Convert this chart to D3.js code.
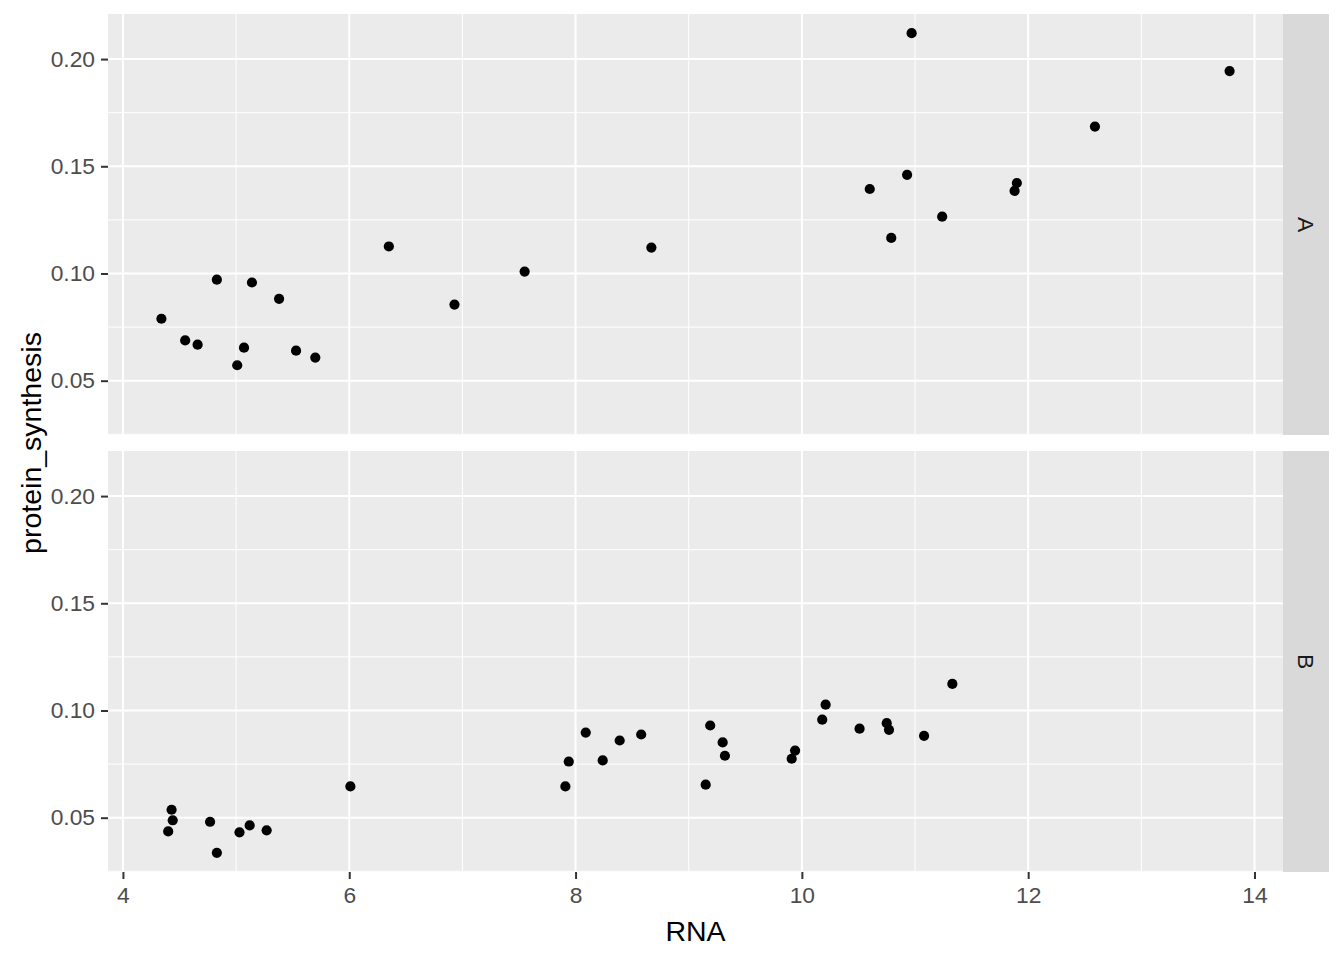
<!DOCTYPE html>
<html>
<head>
<meta charset="utf-8">
<script src="https://cdn.jsdelivr.net/npm/d3@7"></script>
<style>
  body { margin: 0; background: #fff; }
  svg { display: block; font-family: "Liberation Sans", Arial, sans-serif; }
</style>
</head>
<body>
<svg id="chart"></svg>
<script>
const width = 1344;
const height = 960;

// facet A
const rnaA = [4.34, 4.55, 4.66, 4.83, 5.01, 5.07, 5.14, 5.38, 5.53, 5.70, 6.35, 6.93,
  7.55, 8.67, 10.60, 10.79, 10.93, 10.97, 11.24, 11.88, 11.90, 12.59, 13.78];
const proteinA = [0.0789, 0.0688, 0.0668, 0.0971, 0.0572, 0.0654, 0.0958, 0.0882, 0.0640, 0.0608, 0.1126, 0.0855,
  0.1009, 0.1121, 0.1394, 0.1166, 0.1460, 0.2121, 0.1265, 0.1385, 0.1422, 0.1685, 0.1944];

// facet B
const rnaB = [4.43, 4.44, 4.40, 4.77, 4.83, 5.03, 5.12, 5.27, 6.01,
  7.91, 7.94, 8.09, 8.24, 8.39, 8.58, 9.15, 9.19, 9.30, 9.32, 9.91, 9.94,
  10.18, 10.21, 10.51, 10.75, 10.77, 11.08, 11.33];
const proteinB = [0.0537, 0.0488, 0.0436, 0.0481, 0.0336, 0.0432, 0.0464, 0.0441, 0.0646,
  0.0646, 0.0762, 0.0897, 0.0767, 0.0860, 0.0888, 0.0654, 0.0930, 0.0851, 0.0789, 0.0775, 0.0813,
  0.0957, 0.1027, 0.0915, 0.0941, 0.0910, 0.0882, 0.1124];

const panels = ['A', 'B'];
const xTicks = [4, 6, 8, 10, 12, 14];
const xMinor = [5, 7, 9, 11, 13];
const yTicks = [0.05, 0.10, 0.15, 0.20];
const yMinor = [0.025, 0.075, 0.125, 0.175];

const panelData = [
  rnaA.map((x, i) => ({ x: x, y: proteinA[i] })),
  rnaB.map((x, i) => ({ x: x, y: proteinB[i] }))
];

const left = 108, right = 1283, stripW = 46;
const panelTops = [14, 451];
const panelH = 421;

const allX = rnaA.concat(rnaB);
const allY = proteinA.concat(proteinB);
const expand = (ext) => {
  const pad = (ext[1] - ext[0]) * 0.05;
  return [ext[0] - pad, ext[1] + pad];
};

const x = d3.scaleLinear().domain(expand(d3.extent(allX))).range([left, right]);

const svg = d3.select('#chart').attr('width', width).attr('height', height);

panels.forEach((name, p) => {
  const top = panelTops[p];
  const y = d3.scaleLinear().domain(expand(d3.extent(allY))).range([top + panelH, top]);

  const g = svg.append('g');
  g.append('rect')
    .attr('x', left).attr('y', top)
    .attr('width', right - left).attr('height', panelH)
    .attr('fill', '#EBEBEB');

  // minor grid
  g.selectAll('.vminor').data(xMinor).enter().append('line')
    .attr('x1', (d) => x(d)).attr('x2', (d) => x(d))
    .attr('y1', top).attr('y2', top + panelH)
    .attr('stroke', '#fff').attr('stroke-width', 1);
  g.selectAll('.hminor').data(yMinor).enter().append('line')
    .attr('x1', left).attr('x2', right)
    .attr('y1', (d) => y(d)).attr('y2', (d) => y(d))
    .attr('stroke', '#fff').attr('stroke-width', 1);

  // major grid
  g.selectAll('.vmajor').data(xTicks).enter().append('line')
    .attr('x1', (d) => x(d)).attr('x2', (d) => x(d))
    .attr('y1', top).attr('y2', top + panelH)
    .attr('stroke', '#fff').attr('stroke-width', 2);
  g.selectAll('.hmajor').data(yTicks).enter().append('line')
    .attr('x1', left).attr('x2', right)
    .attr('y1', (d) => y(d)).attr('y2', (d) => y(d))
    .attr('stroke', '#fff').attr('stroke-width', 2);

  // points
  g.selectAll('circle').data(panelData[p]).enter().append('circle')
    .attr('cx', (d) => x(d.x))
    .attr('cy', (d) => y(d.y))
    .attr('r', 5.1)
    .attr('fill', '#000');

  // strip
  g.append('rect')
    .attr('x', right).attr('y', top)
    .attr('width', stripW).attr('height', panelH)
    .attr('fill', '#D9D9D9');
  g.append('text')
    .attr('transform', `translate(${right + stripW / 2},${top + panelH / 2}) rotate(90)`)
    .attr('text-anchor', 'middle')
    .attr('dy', '0.36em')
    .attr('font-size', 22.8)
    .attr('fill', '#1A1A1A')
    .text(name);

  // y axis
  const yAxis = svg.append('g')
    .attr('transform', `translate(${left},0)`)
    .call(d3.axisLeft(y).tickValues(yTicks).tickFormat(d3.format('.2f')).tickSize(7).tickPadding(6));
  yAxis.select('.domain').remove();
  yAxis.selectAll('line').attr('stroke', '#333333').attr('stroke-width', 2);
  yAxis.selectAll('text').attr('font-size', 22.8).attr('fill', '#4D4D4D')
    .attr('font-family', '"Liberation Sans", Arial, sans-serif');
});

// x axis on the bottom panel only
const bottom = panelTops[1] + panelH;
const xAxis = svg.append('g')
  .attr('transform', `translate(0,${bottom})`)
  .call(d3.axisBottom(x).tickValues(xTicks).tickFormat(d3.format('d')).tickSize(7).tickPadding(8));
xAxis.select('.domain').remove();
xAxis.selectAll('line').attr('stroke', '#333333').attr('stroke-width', 2);
xAxis.selectAll('text').attr('font-size', 22.8).attr('fill', '#4D4D4D')
  .attr('font-family', '"Liberation Sans", Arial, sans-serif');

// axis titles
svg.append('text')
  .attr('x', (left + right) / 2)
  .attr('y', 941)
  .attr('text-anchor', 'middle')
  .attr('font-size', 28.5)
  .attr('fill', '#000')
  .text('RNA');

svg.append('text')
  .attr('transform', `translate(31,${(panelTops[0] + bottom) / 2}) rotate(-90)`)
  .attr('text-anchor', 'middle')
  .attr('dy', '0.36em')
  .attr('font-size', 28.5)
  .attr('fill', '#000')
  .text('protein_synthesis');
</script>
</body>
</html>
